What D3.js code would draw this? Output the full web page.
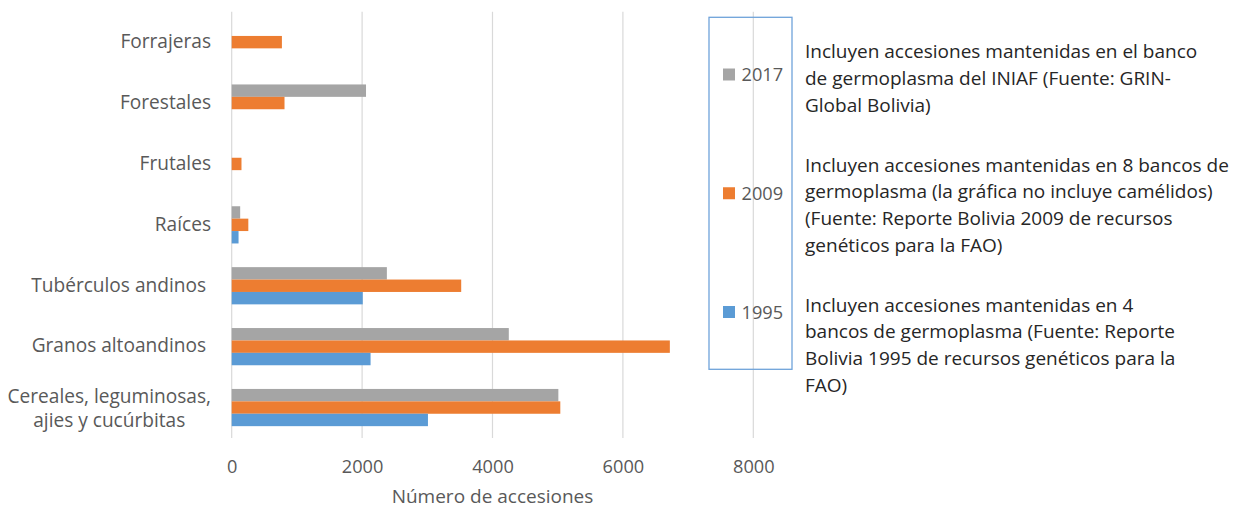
<!DOCTYPE html>
<html>
<head>
<meta charset="utf-8">
<script src="https://cdn.jsdelivr.net/npm/d3@7"></script>
<style>
  html, body { margin: 0; padding: 0; background: #fff; }
  svg { display: block; font-family: "Open Sans", sans-serif; }
  text { white-space: pre; }
</style>
</head>
<body>
<svg id="chart" width="1233" height="508"></svg>
<script>
// Germplasm accessions per crop group, by report year
const categories = [
  "Forrajeras",
  "Forestales",
  "Frutales",
  "Raíces",
  "Tubérculos andinos ",
  "Granos altoandinos ",
  "Cereales, leguminosas,\najies y cucúrbitas"
];
const years = ["2017", "2009", "1995"];
const values2017 = [null, 2060, null, 130, 2380, 4250, 5010];
const values2009 = [770, 810, 150, 255, 3520, 6720, 5040];
const values1995 = [null, null, null, 105, 2010, 2130, 3010];
const colors = ["#A5A5A5", "#ED7D31", "#5B9BD5"];
const xTicks = [0, 2000, 4000, 6000, 8000];
const xTitle = "Número de accesiones";
const notes2017 = [
  "Incluyen accesiones mantenidas en el banco",
  "de germoplasma del INIAF (Fuente: GRIN-",
  "Global Bolivia)"
];
const notes2009 = [
  "Incluyen accesiones mantenidas en 8 bancos de",
  "germoplasma (la gráfica no incluye camélidos)",
  "(Fuente: Reporte Bolivia 2009 de recursos",
  "genéticos para la FAO)"
];
const notes1995 = [
  "Incluyen accesiones mantenidas en 4",
  "bancos de germoplasma (Fuente: Reporte",
  "Bolivia 1995 de recursos genéticos para la",
  "FAO)"
];

const seriesValues = [values2017, values2009, values1995];
const notes = [notes2017, notes2009, notes1995];

const svg = d3.select("#chart");
const axisColor = "#595959";
const gridColor = "#D9D9D9";

const plot = { left: 231.7, right: 753.3, top: 11.7, bottom: 438 };

const x = d3.scaleLinear().domain([0, 8000]).range([plot.left, plot.right]);
const y = d3.scaleBand().domain(categories).range([plot.top, plot.bottom])
  .paddingInner(0.389).paddingOuter(0.1945);
const ySub = d3.scaleBand().domain(years).range([0, y.bandwidth()]);

// vertical gridlines
svg.append("g").selectAll("line").data(xTicks).join("line")
  .attr("x1", d => x(d)).attr("x2", d => x(d))
  .attr("y1", plot.top).attr("y2", plot.bottom)
  .attr("stroke", gridColor).attr("stroke-width", 1.2);

// x axis tick labels
const xAxis = d3.axisBottom(x).tickValues(xTicks).tickSize(0).tickPadding(0).tickFormat(d3.format("d"));
const gx = svg.append("g").attr("transform", `translate(0,${plot.bottom})`).call(xAxis);
gx.select(".domain").remove();
gx.selectAll("text")
  .attr("y", 35).attr("dy", null)
  .attr("fill", axisColor)
  .style("font-size", "18.2px")
  .style("font-family", "'Open Sans', sans-serif");

svg.append("text")
  .attr("x", (x(0) + x(8000)) / 2).attr("y", 503)
  .attr("text-anchor", "middle")
  .attr("fill", axisColor)
  .style("font-size", "19px")
  .text(xTitle);

// bars
const rows = [];
categories.forEach((c, i) => {
  years.forEach((yr, j) => {
    const v = seriesValues[j][i];
    if (v != null) rows.push({ cat: c, year: yr, value: v, color: colors[j] });
  });
});
svg.append("g").selectAll("rect").data(rows).join("rect")
  .attr("x", x(0))
  .attr("y", d => y(d.cat) + ySub(d.year))
  .attr("width", d => x(d.value) - x(0))
  .attr("height", ySub.bandwidth())
  .attr("fill", d => d.color);

// category labels (multi-line labels centred as a block, block right-aligned)
const labelRight = 211;
const lineGap = 24;
categories.forEach(c => {
  const lines = c.split("\n");
  const cy = y(c) + y.bandwidth() / 2;
  const g = svg.append("g");
  const texts = lines.map((ln, k) => g.append("text")
    .attr("y", cy + 5.8 + (k - (lines.length - 1) / 2) * lineGap + (lines.length > 1 ? 2 : 0))
    .attr("fill", axisColor)
    .style("font-size", "19.1px")
    .text(ln));
  if (lines.length === 1) {
    texts[0].attr("x", labelRight).attr("text-anchor", "end");
  } else {
    const w = d3.max(texts, t => t.node().getComputedTextLength());
    texts.forEach(t => t.attr("x", labelRight - w / 2).attr("text-anchor", "middle"));
  }
});

// legend box
svg.append("rect")
  .attr("x", 709).attr("y", 17.3).attr("width", 83).attr("height", 352)
  .attr("fill", "none").attr("stroke", "#6FA3DA").attr("stroke-width", 1.3);

const legendY = d3.scalePoint().domain(years).range([74.5, 312]);
const leg = svg.append("g").selectAll("g").data(years).join("g")
  .attr("transform", d => `translate(723,${legendY(d)})`);
leg.append("rect").attr("x", 0).attr("y", -6).attr("width", 12).attr("height", 12)
  .attr("fill", (d, i) => colors[i]);
leg.append("text").attr("x", 18.5).attr("y", 6.7)
  .attr("fill", axisColor).style("font-size", "18.2px")
  .text(d => d);

// source notes beside the legend
const noteTops = [58.3, 171.7, 311.7];
notes.forEach((lines, i) => {
  const t = svg.append("text").attr("fill", "#262626").style("font-size", "19px");
  lines.forEach((ln, k) => {
    t.append("tspan").attr("x", 805).attr("y", noteTops[i] + k * 26.7).text(ln);
  });
});
</script>
</body>
</html>
